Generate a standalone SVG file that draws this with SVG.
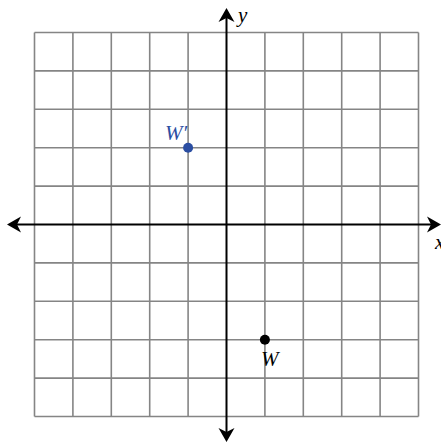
<svg xmlns="http://www.w3.org/2000/svg" width="441" height="444" viewBox="0 0 441 444">
<style>
.g{stroke:#858585;stroke-width:1.6;fill:none}
.ax{stroke:#000;stroke-width:2;fill:none}
.lbl{font-family:"Liberation Serif",serif;font-style:italic;font-size:21px}
</style>
<defs>
<path id="ah" d="M0,0 L-14,-8 L-10,0 L-14,8 Z" fill="#000"/>
</defs>
<g id="grid">
<path class="g" d="M34.5,32.5V416.5M72.9,32.5V416.5M111.3,32.5V416.5M149.7,32.5V416.5M188.1,32.5V416.5M264.9,32.5V416.5M303.3,32.5V416.5M341.7,32.5V416.5M380.1,32.5V416.5M418.5,32.5V416.5"/>
<path class="g" d="M34.5,32.5H418.5M34.5,70.9H418.5M34.5,109.3H418.5M34.5,147.7H418.5M34.5,186.1H418.5M34.5,262.9H418.5M34.5,301.3H418.5M34.5,339.7H418.5M34.5,378.1H418.5M34.5,416.5H418.5"/>
</g>
<g id="axes">
<path class="ax" d="M12,224.5H436"/>
<path class="ax" d="M226.5,14V437"/>
<use href="#ah" transform="translate(7,224.5) rotate(180)"/>
<use href="#ah" transform="translate(441,224.5)"/>
<use href="#ah" transform="translate(226.5,8) rotate(-90)"/>
<use href="#ah" transform="translate(226.5,442) rotate(90)"/>
<text class="lbl" x="238" y="22">y</text>
<text class="lbl" x="435" y="249">x</text>
</g>
<g id="Wp">
<circle cx="188.1" cy="147.7" r="5" fill="#2b4ea2"/>
<text class="lbl" x="165" y="140" fill="#2b4ea2">W′</text>
</g>
<g id="W">
<circle cx="264.9" cy="339.7" r="5" fill="#000"/>
<text class="lbl" x="261" y="366">W</text>
</g>
</svg>
